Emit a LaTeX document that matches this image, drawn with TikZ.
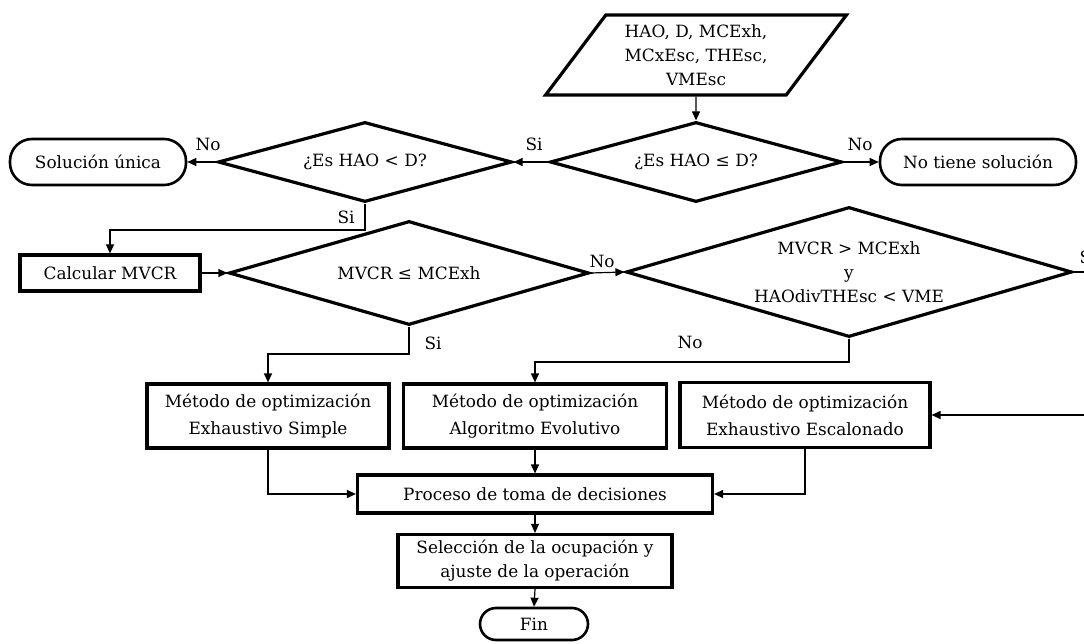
\documentclass[tikz,border=0pt]{standalone}
\usepackage{fontspec}
\setmainfont{DejaVu Serif}
\usetikzlibrary{arrows.meta,shapes.geometric}

\tikzset{
  txt/.style={font=\fontsize{16.9}{24}\selectfont, align=center},
  procbox/.style={txt, draw, line width=3.2pt, rectangle, inner sep=0pt},
  termbox/.style={txt, draw, line width=2.6pt, rectangle, inner sep=0pt},
  decision/.style={txt, draw, line width=3.2pt, diamond, inner sep=0pt},
  inputbox/.style={txt, draw, line width=3.2pt, trapezium, trapezium stretches=true,
    trapezium left angle=52, trapezium right angle=128, inner sep=0pt},
  conn/.style={line width=1.2pt, -{Triangle[length=9pt,width=8pt]}},
  lbl/.style={font=\fontsize{16.9}{18}\selectfont, inner sep=0pt}
}

\begin{document}
\begin{tikzpicture}[x=1pt,y=-1pt]
\useasboundingbox (0,0) rectangle (1084,644);

% input data
\node[inputbox, minimum width=302pt, minimum height=80pt] (in) at (696,55)
  {HAO, D, MCExh,\\MCxEsc, THEsc,\\VMEsc};

% first decisions
\node[decision, aspect=3.65, minimum width=292pt, minimum height=80pt] (d1) at (696,162) {¿Es HAO ≤ D?};
\node[decision, aspect=3.65, minimum width=294pt, minimum height=80pt] (d2) at (365,162) {¿Es HAO < D?};
\node[termbox, minimum width=176pt, minimum height=46pt, rounded corners=22pt] (t1) at (98,162) {Solución única};
\node[termbox, minimum width=196pt, minimum height=46pt, rounded corners=22pt] (t2) at (978,162) {No tiene solución};

% MVCR branch
\node[procbox, minimum width=180pt, minimum height=36pt] (calc) at (110,273) {Calcular MVCR};
\node[decision, aspect=3.46, minimum width=360pt, minimum height=104pt] (d3) at (409,273) {MVCR ≤ MCExh};
\node[decision, aspect=3.43, minimum width=446pt, minimum height=130pt] (d4) at (849,272)
  {MVCR > MCExh\\y\\HAOdivTHEsc < VME};

% optimisation methods
\node[procbox, minimum width=242pt, minimum height=64pt, font=\fontsize{16.9}{27}\selectfont] (bs) at (268,416)
  {Método de optimización\\Exhaustivo Simple};
\node[procbox, minimum width=263pt, minimum height=64pt, font=\fontsize{16.9}{27}\selectfont] (ba) at (535,416)
  {Método de optimización\\Algoritmo Evolutivo};
\node[procbox, minimum width=250pt, minimum height=65pt, font=\fontsize{16.9}{27}\selectfont] (be) at (805,415)
  {Método de optimización\\Exhaustivo Escalonado};

% decision and end
\node[procbox, minimum width=355pt, minimum height=38pt] (pr) at (535,494) {Proceso de toma de decisiones};
\node[procbox, minimum width=274pt, minimum height=53pt] (se) at (535,561)
  {Selección de la ocupación y\\ajuste de la operación};
\node[termbox, minimum width=108pt, minimum height=32pt, rounded corners=16pt] (fin) at (534,624) {Fin};

\coordinate (loop) at (1100,340);

% connectors
\draw[conn] (in.south) -- (d1.north);
\draw[conn] (d1.west) -- (d2.east);
\draw[conn] (d1.east) -- (t2.west);
\draw[conn] (d2.west) -- (t1.east);
\draw[conn] (d2.south) -- (d2.south |- 0,230) -| (calc.north);
\draw[conn] (calc.east) -- (d3.west);
\draw[conn] (d3.east) -- (d4.west);
\draw[conn] (d3.south) -- (d3.south |- 0,354) -| (bs.north);
\draw[conn] (d4.south) -- (d4.south |- 0,362) -| (ba.north);
\draw[conn] (d4.east) -| (loop) |- (be.east);
\draw[conn] (ba.south) -- (pr.north);
\draw[conn] (bs.south) |- (pr.west);
\draw[conn] (be.south) |- (pr.east);
\draw[conn] (pr.south) -- (se.north);
\draw[conn] (se.south) -- (fin.north);

% branch labels
\node[lbl] (l1) at (534,144) {Si};
\node[lbl] (l2) at (860,144) {No};
\node[lbl] (l3) at (208,144) {No};
\node[lbl] (l4) at (346,217) {Si};
\node[lbl] (l5) at (602,261) {No};
\node[lbl] (l6) at (433,343) {Si};
\node[lbl] (l7) at (690,342) {No};
\node[lbl] (l8) at (1088,257) {Si};
\end{tikzpicture}
\end{document}
